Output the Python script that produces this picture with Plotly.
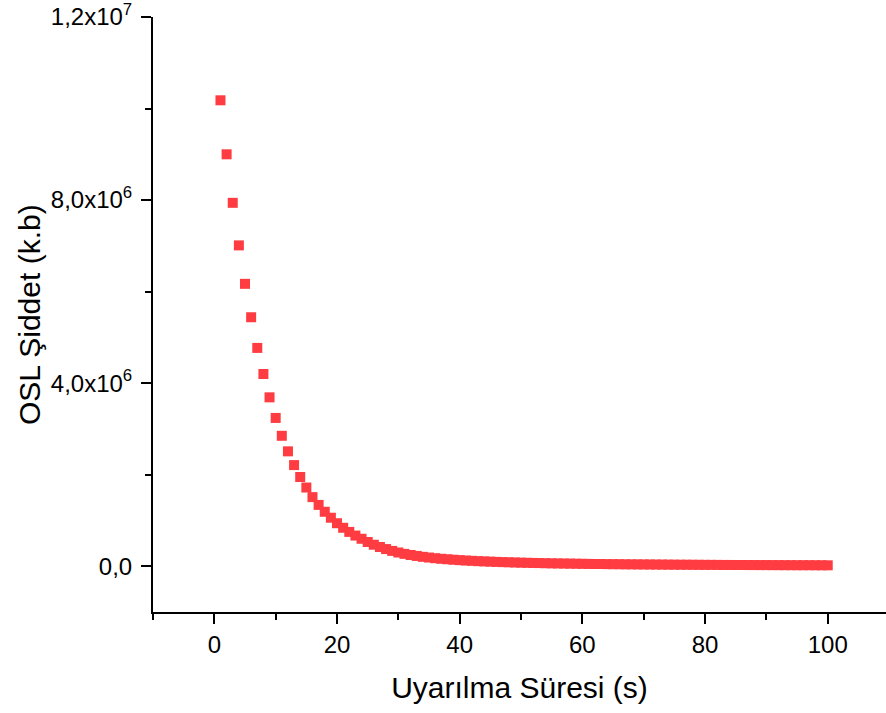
import plotly.graph_objects as go

# Stimulation time (s)
time_s = list(range(1, 101))

# OSL intensity (a.u.)
osl_intensity = [
    10.18e6, 9.00e6, 7.94e6, 7.01e6, 6.17e6, 5.44e6, 4.77e6, 4.20e6, 3.69e6, 3.24e6,
    2.85e6, 2.51e6, 2.21e6, 1.95e6, 1.72e6, 1.51e6, 1.34e6, 1.19e6, 1.06e6, 0.94e6,
    0.84e6, 0.75e6, 0.67e6, 0.60e6, 0.53e6, 0.47e6, 0.42e6, 0.375e6, 0.335e6, 0.30e6,
    0.27e6, 0.245e6, 0.225e6, 0.205e6, 0.19e6, 0.175e6, 0.163e6, 0.152e6, 0.142e6, 0.133e6,
    0.125e6, 0.118e6, 0.111e6, 0.105e6, 0.10e6, 0.095e6, 0.090e6, 0.086e6, 0.082e6, 0.078e6,
    0.075e6, 0.072e6, 0.069e6, 0.066e6, 0.063e6, 0.061e6, 0.059e6, 0.057e6, 0.055e6, 0.053e6,
    0.051e6, 0.049e6, 0.048e6, 0.046e6, 0.045e6, 0.044e6, 0.042e6, 0.041e6, 0.040e6, 0.039e6,
    0.038e6, 0.037e6, 0.036e6, 0.035e6, 0.034e6, 0.033e6, 0.033e6, 0.032e6, 0.031e6, 0.030e6,
    0.030e6, 0.029e6, 0.028e6, 0.028e6, 0.027e6, 0.027e6, 0.026e6, 0.026e6, 0.025e6, 0.025e6,
    0.024e6, 0.024e6, 0.023e6, 0.023e6, 0.022e6, 0.022e6, 0.022e6, 0.021e6, 0.021e6, 0.020e6,
]

y_tick_vals = [0, 4e6, 8e6, 1.2e7]
y_tick_text = ["0,0", "4,0x10<sup>6</sup>", "8,0x10<sup>6</sup>", "1,2x10<sup>7</sup>"]
x_tick_vals = [0, 20, 40, 60, 80, 100]

font_family = "Liberation Sans, Arial, sans-serif"

fig = go.Figure()
fig.add_trace(go.Scatter(
    x=time_s, y=osl_intensity, mode="markers",
    marker=dict(symbol="square", size=10, color="#ff3c41", line=dict(width=0)),
    showlegend=False,
))

fig.update_layout(
    width=886, height=713,
    margin=dict(l=153, r=0, t=17, b=101),
    paper_bgcolor="white", plot_bgcolor="white",
    font=dict(family=font_family, size=22, color="black"),
    xaxis=dict(
        range=[-10, 109.5], showgrid=False, zeroline=False,
        showline=True, linecolor="black", linewidth=2,
        ticks="outside", ticklen=10, tickwidth=2, tickcolor="black",
        tickvals=x_tick_vals, ticktext=[str(v) for v in x_tick_vals],
        tickfont=dict(size=24),
        minor=dict(ticks="outside", ticklen=6, tickwidth=2, tickcolor="black", dtick=10, tick0=0, showgrid=False),
        title=dict(text="Uyarılma Süresi (s)", font=dict(size=30), standoff=20),
    ),
    yaxis=dict(
        range=[-1.0e6, 1.2e7], showgrid=False, zeroline=False,
        showline=True, linecolor="black", linewidth=2,
        ticks="outside", ticklen=10, tickwidth=2, tickcolor="black",
        tickvals=y_tick_vals, ticktext=y_tick_text,
        tickfont=dict(size=24), ticklabelstandoff=4,
        minor=dict(ticks="outside", ticklen=6, tickwidth=2, tickcolor="black", dtick=2e6, tick0=0, showgrid=False),
    ),
    annotations=[dict(
        text="OSL Şiddet (k.b)", textangle=-90, xref="paper", yref="paper",
        x=(29 - 153) / 733, y=(612 - 315) / 595, xanchor="center", yanchor="middle",
        showarrow=False, font=dict(size=30, family=font_family, color="black"),
    )],
)

fig.write_html("out.html")
